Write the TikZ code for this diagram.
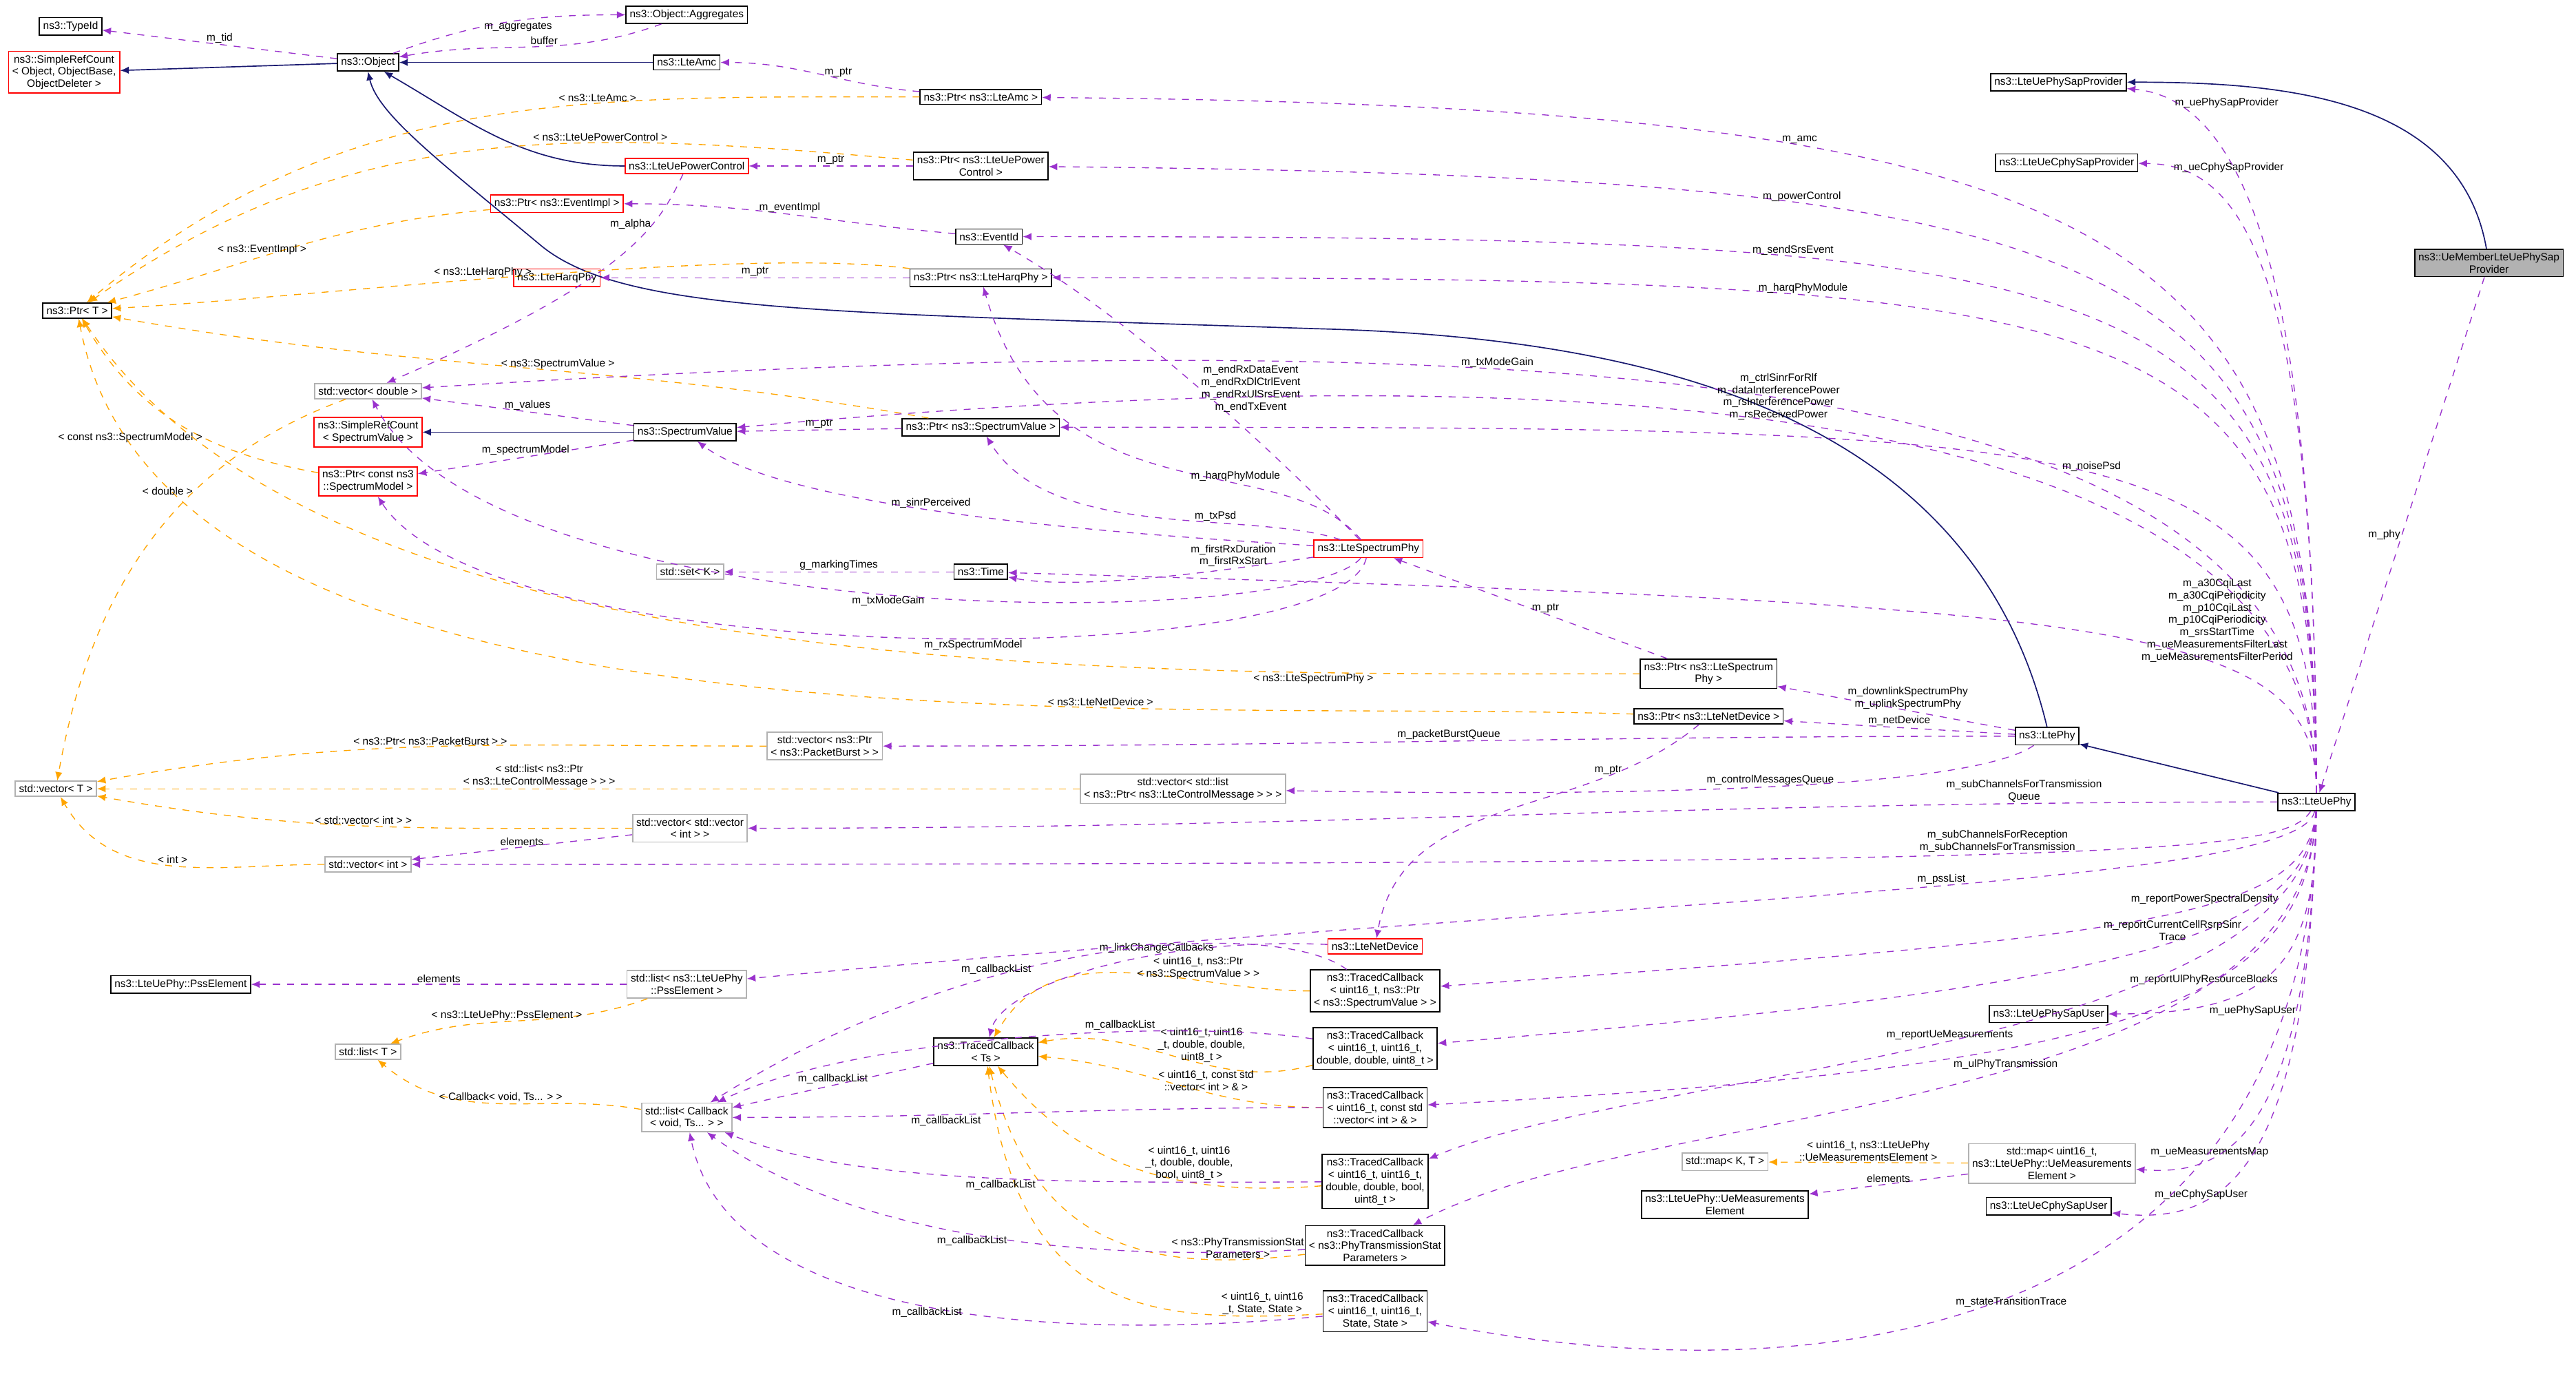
\documentclass[tikz,border=0pt]{standalone}
\usepackage{fontspec}
\setmainfont{Liberation Sans}
\usetikzlibrary{arrows.meta,positioning}
\definecolor{edgeblue}{RGB}{25,25,112}
\definecolor{edgepurple}{RGB}{154,50,205}
\definecolor{edgeorange}{RGB}{255,165,0}

\begin{document}
\begin{tikzpicture}[x=0.025cm,y=-0.025cm,
    every node/.style={font=\fontsize{4.6}{5.3}\selectfont},
    cls/.style={draw,fill=white,align=center,inner sep=1.6pt,line width=0.5pt},
    redcls/.style={cls,draw=red},
    extcls/.style={cls,draw=gray!60},
    selfcls/.style={cls,fill=gray!60},
    inherit/.style={draw=edgeblue,line width=0.5pt,-{Latex[length=1.3mm,width=1.1mm]}},
    member/.style={draw=edgepurple,dashed,line width=0.4pt,-{Latex[length=1.3mm,width=1.1mm]}},
    tmpl/.style={draw=edgeorange,dashed,line width=0.4pt,-{Latex[length=1.3mm,width=1.1mm]}},
    lbl/.style={align=center,fill=none,inner sep=0.5pt}]
\useasboundingbox (0,0) rectangle (1568,840);

% classes, left part
\node (TypeId) [cls] at (43,16) {ns3::TypeId};
\node (SrcObject) [redcls] at (39,44) {ns3::SimpleRefCount\\< Object, ObjectBase,\\ObjectDeleter >};
\node (Object) [cls] at (224,38) {ns3::Object};
\node (Aggregates) [cls] at (418,9) {ns3::Object::Aggregates};
\node (LteAmc) [cls] at (418,38) {ns3::LteAmc};
\node (PtrAmc) [cls] at (597,59) {ns3::Ptr< ns3::LteAmc >};
\node (PtrT) [cls] at (47,189) {ns3::Ptr< T >};
\node (UePc) [redcls] at (418,101) {ns3::LteUePowerControl};
\node (PtrPc) [cls] at (597,101) {ns3::Ptr< ns3::LteUePower\\Control >};
\node (PtrEv) [redcls] at (339,124) {ns3::Ptr< ns3::EventImpl >};
\node (EventId) [cls] at (602,144) {ns3::EventId};
\node (Harq) [redcls] at (339,169) {ns3::LteHarqPhy};
\node (PtrHarq) [cls] at (597,169) {ns3::Ptr< ns3::LteHarqPhy >};
\node (VecD) [extcls] at (224,238) {std::vector< double >};
\node (SrcSv) [redcls] at (224,263) {ns3::SimpleRefCount\\< SpectrumValue >};
\node (Sv) [cls] at (417,263) {ns3::SpectrumValue};
\node (PtrSv) [cls] at (597,260) {ns3::Ptr< ns3::SpectrumValue >};
\node (PtrSm) [redcls] at (224,293) {ns3::Ptr< const ns3\\::SpectrumModel >};
\node (Lsp) [redcls] at (833,334) {ns3::LteSpectrumPhy};
\node (SetK) [extcls] at (420,348) {std::set< K >};
\node (Time) [cls] at (597,348) {ns3::Time};
\node (PtrLsp) [cls] at (1040,410) {ns3::Ptr< ns3::LteSpectrum\\Phy >};
\node (PtrNd) [cls] at (1040,436) {ns3::Ptr< ns3::LteNetDevice >};
\node (LtePhy) [cls] at (1246,448) {ns3::LtePhy};
\node (VecPb) [extcls] at (502,454) {std::vector< ns3::Ptr\\< ns3::PacketBurst > >};
\node (VecT) [extcls] at (34,480) {std::vector< T >};
\node (VecMsg) [extcls] at (720,480) {std::vector< std::list\\< ns3::Ptr< ns3::LteControlMessage > > >};
\node (VecVec) [extcls] at (420,504) {std::vector< std::vector\\< int > >};
\node (VecI) [extcls] at (224,526) {std::vector< int >};
\node (UePhy) [cls] at (1410,488) {ns3::LteUePhy};
\node (NetDev) [redcls] at (837,576) {ns3::LteNetDevice};
\node (Pss) [cls] at (110,599) {ns3::LteUePhy::PssElement};
\node (ListPss) [extcls] at (418,599) {std::list< ns3::LteUePhy\\::PssElement >};
\node (ListT) [extcls] at (224,640) {std::list< T >};
\node (TcBase) [cls] at (600,640) {ns3::TracedCallback\\< Ts >};
\node (ListCb) [extcls] at (418,680) {std::list< Callback\\< void, Ts... > >};
\node (Tc1) [cls] at (837,603) {ns3::TracedCallback\\< uint16\_t, ns3::Ptr\\< ns3::SpectrumValue > >};
\node (Tc2) [cls] at (837,638) {ns3::TracedCallback\\< uint16\_t, uint16\_t,\\double, double, uint8\_t >};
\node (Tc3) [cls] at (837,674) {ns3::TracedCallback\\< uint16\_t, const std\\::vector< int > \& >};
\node (Tc4) [cls] at (837,719) {ns3::TracedCallback\\< uint16\_t, uint16\_t,\\double, double, bool,\\uint8\_t >};
\node (Tc5) [cls] at (837,758) {ns3::TracedCallback\\< ns3::PhyTransmissionStat\\Parameters >};
\node (Tc6) [cls] at (837,798) {ns3::TracedCallback\\< uint16\_t, uint16\_t,\\State, State >};

% classes, right part
\node (SapProv) [cls] at (1253,50) {ns3::LteUePhySapProvider};
\node (CphyProv) [cls] at (1258,99) {ns3::LteUeCphySapProvider};
\node (SapUser) [cls] at (1247,617) {ns3::LteUePhySapUser};
\node (MapKT) [extcls] at (1050,707) {std::map< K, T >};
\node (UeMeas) [cls] at (1050,733) {ns3::LteUePhy::UeMeasurements\\Element};
\node (MapMeas) [extcls] at (1249,708) {std::map< uint16\_t,\\ns3::LteUePhy::UeMeasurements\\Element >};
\node (CphyUser) [cls] at (1247,734) {ns3::LteUeCphySapUser};
\node (Member) [selfcls] at (1515,160) {ns3::UeMemberLteUePhySap\\Provider};

% inheritance
\draw[inherit] (Object) -- (SrcObject);
\draw[inherit] (LteAmc) -- (Object);
\draw[inherit] (UePc) to[out=180,in=-30] (Object);
\draw[inherit] (Sv) -- (SrcSv);
\draw[inherit] (UePhy) -- (LtePhy);
\draw[inherit] (Member) to[out=100,in=0] (SapProv);
\draw[inherit] (LtePhy.north) .. controls (1200,250) and (1000,205) .. (800,200)
    .. controls (500,190) and (380,190) .. (330,150) .. controls (270,100) and (230,70) .. (Object.south);

% members of the base classes
\draw[member] (Object) -- node[lbl,above] {m\_tid} (TypeId);
\draw[member] (Object) to[out=20,in=180] node[lbl,below,pos=0.55] {m\_aggregates} (Aggregates);
\draw[member] (Aggregates) to[out=200,in=10] node[lbl,above,pos=0.45] {buffer} (Object);
\draw[member] (PtrAmc) to[out=175,in=0] node[lbl,above,pos=0.4] {m\_ptr} (LteAmc);
\draw[member] (PtrPc) -- node[lbl,above] {m\_ptr} (UePc);
\draw[member] (PtrHarq) -- node[lbl,above] {m\_ptr} (Harq);
\draw[member] (PtrSv) -- node[lbl,above] {m\_ptr} (Sv);
\draw[member] (EventId) to[out=175,in=0] node[lbl,above,pos=0.5] {m\_eventImpl} (PtrEv);
\draw[member] (UePc) .. controls (400,140) and (380,170) .. node[lbl,pos=0.3,left] {m\_alpha} (VecD);
\draw[member] (Sv) -- node[lbl,above] {m\_values} (VecD);
\draw[member] (Sv) -- node[lbl,above] {m\_spectrumModel} (PtrSm);
\draw[member] (Time) -- node[lbl,above] {g\_markingTimes} (SetK);
\draw[member] (VecVec) -- node[lbl,above] {elements} (VecI);
\draw[member] (ListPss) -- node[lbl,above] {elements} (Pss);
\draw[member] (MapMeas) -- node[lbl,above] {elements} (UeMeas);

% template arguments
\draw[tmpl] (PtrAmc) to[out=180,in=40] node[lbl,above,pos=0.35] {< ns3::LteAmc >} (PtrT);
\draw[tmpl] (PtrPc) to[out=175,in=35] node[lbl,above,pos=0.35] {< ns3::LteUePowerControl >} (PtrT);
\draw[tmpl] (PtrEv) to[out=185,in=15] node[lbl,above,pos=0.6] {< ns3::EventImpl >} (PtrT);
\draw[tmpl] (PtrHarq) .. controls (450,150) and (200,180) .. node[lbl,pos=0.55,above] {< ns3::LteHarqPhy >} (PtrT);
\draw[tmpl] (PtrSv) to[out=170,in=-10] node[lbl,pos=0.45,above] {< ns3::SpectrumValue >} (PtrT);
\draw[tmpl] (PtrSm) to[out=170,in=-60] node[lbl,pos=0.4,left] {< const ns3::SpectrumModel >} (PtrT);
\draw[tmpl] (PtrLsp) .. controls (700,410) and (200,420) .. node[lbl,pos=0.2,below] {< ns3::LteSpectrumPhy >} (PtrT);
\draw[tmpl] (PtrNd) .. controls (700,425) and (100,470) .. node[lbl,pos=0.3,above] {< ns3::LteNetDevice >} (PtrT);
\draw[tmpl] (VecD) to[out=200,in=80] node[lbl,pos=0.35,left] {< double >} (VecT);
\draw[tmpl] (VecPb) to[out=180,in=10] node[lbl,pos=0.5,above] {< ns3::Ptr< ns3::PacketBurst > >} (VecT);
\draw[tmpl] (VecMsg) -- node[lbl,pos=0.55,above] {< std::list< ns3::Ptr\\< ns3::LteControlMessage > > >} (VecT);
\draw[tmpl] (VecVec) to[out=180,in=-10] node[lbl,pos=0.5,above] {< std::vector< int > >} (VecT);
\draw[tmpl] (VecI) to[out=180,in=-60] node[lbl,pos=0.5,above] {< int >} (VecT);
\draw[tmpl] (ListPss) to[out=200,in=20] node[lbl,pos=0.55,above] {< ns3::LteUePhy::PssElement >} (ListT);
\draw[tmpl] (ListCb) to[out=170,in=-40] node[lbl,pos=0.5,above] {< Callback< void, Ts... > >} (ListT);
\draw[tmpl] (MapMeas) -- node[lbl,pos=0.5,above] {< uint16\_t, ns3::LteUePhy\\::UeMeasurementsElement >} (MapKT);
\draw[tmpl] (Tc1) to[out=180,in=60] node[lbl,pos=0.3,above] {< uint16\_t, ns3::Ptr\\< ns3::SpectrumValue > >} (TcBase);
\draw[tmpl] (Tc2) to[out=195,in=10] node[lbl,pos=0.4,above] {< uint16\_t, uint16\\\_t, double, double,\\uint8\_t >} (TcBase);
\draw[tmpl] (Tc3) to[out=180,in=-5] node[lbl,pos=0.4,above] {< uint16\_t, const std\\::vector< int > \& >} (TcBase);
\draw[tmpl] (Tc4) .. controls (700,730) and (650,700) .. node[lbl,pos=0.3,above] {< uint16\_t, uint16\\\_t, double, double,\\bool, uint8\_t >} (TcBase);
\draw[tmpl] (Tc5) .. controls (700,775) and (630,760) .. node[lbl,pos=0.15,above] {< ns3::PhyTransmissionStat\\Parameters >} (TcBase);
\draw[tmpl] (Tc6) .. controls (700,805) and (620,800) .. node[lbl,pos=0.12,above] {< uint16\_t, uint16\\\_t, State, State >} (TcBase);

% callbacks
\draw[member] (TcBase) -- node[lbl,above] {m\_callbackList} (ListCb);
\draw[member] (NetDev) .. controls (700,570) and (610,600) .. node[lbl,pos=0.35,above] {m\_linkChangeCallbacks} (TcBase);
\draw[member] (Tc1) .. controls (780,560) and (600,565) .. node[lbl,pos=0.65,above] {m\_callbackList} (ListCb);
\draw[member] (Tc2) .. controls (720,620) and (520,630) .. node[lbl,pos=0.35,above] {m\_callbackList} (ListCb);
\draw[member] (Tc3) to[out=180,in=0] node[lbl,pos=0.65,below] {m\_callbackList} (ListCb);
\draw[member] (Tc4) .. controls (640,720) and (520,720) .. node[lbl,pos=0.45,below] {m\_callbackList} (ListCb);
\draw[member] (Tc5) .. controls (620,770) and (500,740) .. node[lbl,pos=0.45,below] {m\_callbackList} (ListCb);
\draw[member] (Tc6) .. controls (600,820) and (440,790) .. node[lbl,pos=0.45,below] {m\_callbackList} (ListCb);

% LteSpectrumPhy members
\draw[member] (Lsp) .. controls (800,300) and (700,200) .. node[lbl,pos=0.55,right] {m\_endRxDataEvent\\m\_endRxDlCtrlEvent\\m\_endRxUlSrsEvent\\m\_endTxEvent} (EventId);
\draw[member] (Lsp) .. controls (780,270) and (640,320) .. node[lbl,pos=0.35,above] {m\_harqPhyModule} (PtrHarq);
\draw[member] (Lsp) .. controls (760,310) and (640,330) .. node[lbl,pos=0.35,above] {m\_txPsd} (PtrSv);
\draw[member] (Lsp) .. controls (680,325) and (480,310) .. node[lbl,pos=0.55,above] {m\_sinrPerceived} (Sv);
\draw[member] (Lsp) .. controls (760,345) and (660,360) .. node[lbl,pos=0.3,above] {m\_firstRxDuration\\m\_firstRxStart} (Time);
\draw[member] (Lsp) .. controls (790,385) and (300,385) .. node[lbl,pos=0.5,below] {m\_txModeGain} (VecD);
\draw[member] (Lsp) .. controls (815,410) and (300,410) .. node[lbl,pos=0.45,below] {m\_rxSpectrumModel} (PtrSm);
\draw[member] (PtrLsp) -- node[lbl,pos=0.5,right] {m\_ptr} (Lsp);
\draw[member] (PtrNd) to[out=220,in=80] node[lbl,pos=0.2,left] {m\_ptr} (NetDev);

% LtePhy members
\draw[member] (LtePhy) -- node[lbl,pos=0.45,above] {m\_downlinkSpectrumPhy\\m\_uplinkSpectrumPhy} (PtrLsp);
\draw[member] (LtePhy) -- node[lbl,pos=0.5,above] {m\_netDevice} (PtrNd);
\draw[member] (LtePhy) to[out=180,in=0] node[lbl,pos=0.5,above] {m\_packetBurstQueue} (VecPb);
\draw[member] (LtePhy) .. controls (1200,480) and (1000,485) .. node[lbl,pos=0.5,above] {m\_controlMessagesQueue} (VecMsg);

% LteUePhy members
\draw[member] (UePhy) .. controls (1410,150) and (1360,60) .. node[lbl,pos=0.85,right] {m\_uePhySapProvider} (SapProv);
\draw[member] (UePhy) .. controls (1410,140) and (1300,65) .. node[lbl,pos=0.7,above] {m\_amc} (PtrAmc);
\draw[member] (UePhy) .. controls (1410,150) and (1300,108) .. node[lbl,pos=0.7,above] {m\_powerControl} (PtrPc);
\draw[member] (UePhy) .. controls (1410,150) and (1360,100) .. node[lbl,pos=0.88,right] {m\_ueCphySapProvider} (CphyProv);
\draw[member] (UePhy) .. controls (1410,160) and (1300,144) .. node[lbl,pos=0.7,above] {m\_sendSrsEvent} (EventId);
\draw[member] (UePhy) .. controls (1410,180) and (1300,169) .. node[lbl,pos=0.7,above] {m\_harqPhyModule} (PtrHarq);
\draw[member] (UePhy) .. controls (1410,230) and (1000,190) .. node[lbl,pos=0.65,above] {m\_txModeGain} (VecD);
\draw[member] (UePhy) .. controls (1410,250) and (1000,210) .. node[lbl,pos=0.55,above] {m\_ctrlSinrForRlf\\m\_dataInterferencePower\\m\_rsInterferencePower\\m\_rsReceivedPower} (Sv);
\draw[member] (UePhy) .. controls (1410,260) and (1300,260) .. node[lbl,pos=0.5,above] {m\_noisePsd} (PtrSv);
\draw[member] (UePhy) .. controls (1410,380) and (1300,368) .. node[lbl,pos=0.35,above] {m\_a30CqiLast\\m\_a30CqiPeriodicity\\m\_p10CqiLast\\m\_p10CqiPeriodicity\\m\_srsStartTime\\m\_ueMeasurementsFilterLast\\m\_ueMeasurementsFilterPeriod} (Time);
\draw[member] (UePhy) to[out=180,in=0] node[lbl,pos=0.15,above] {m\_subChannelsForTransmission\\Queue} (VecVec);
\draw[member] (UePhy) .. controls (1390,520) and (1300,526) .. node[lbl,pos=0.5,above] {m\_subChannelsForReception\\m\_subChannelsForTransmission} (VecI);
\draw[member] (UePhy) .. controls (1400,540) and (1000,545) .. node[lbl,pos=0.45,above] {m\_pssList} (ListPss);
\draw[member] (UePhy) .. controls (1405,560) and (1300,570) .. node[lbl,pos=0.4,above] {m\_reportPowerSpectralDensity} (Tc1);
\draw[member] (UePhy) .. controls (1405,570) and (1300,600) .. node[lbl,pos=0.45,above] {m\_reportCurrentCellRsrpSinr\\Trace} (Tc2);
\draw[member] (UePhy) .. controls (1410,590) and (1380,617) .. node[lbl,pos=0.75,below right] {m\_uePhySapUser} (SapUser);
\draw[member] (UePhy) .. controls (1405,610) and (1300,650) .. node[lbl,pos=0.4,above] {m\_reportUlPhyResourceBlocks} (Tc3);
\draw[member] (UePhy) .. controls (1405,640) and (1000,650) .. node[lbl,pos=0.5,above] {m\_reportUeMeasurements} (Tc4);
\draw[member] (UePhy) .. controls (1405,680) and (1000,670) .. node[lbl,pos=0.45,above] {m\_ulPhyTransmission} (Tc5);
\draw[member] (UePhy) .. controls (1405,700) and (1350,715) .. node[lbl,pos=0.7,above] {m\_ueMeasurementsMap} (MapMeas);
\draw[member] (UePhy) .. controls (1405,720) and (1350,745) .. node[lbl,pos=0.7,above] {m\_ueCphySapUser} (CphyUser);
\draw[member] (UePhy) .. controls (1405,820) and (1100,850) .. node[lbl,pos=0.5,below] {m\_stateTransitionTrace} (Tc6);
\draw[member] (Member) -- node[lbl,pos=0.5,left] {m\_phy} (UePhy);
\end{tikzpicture}
\end{document}
